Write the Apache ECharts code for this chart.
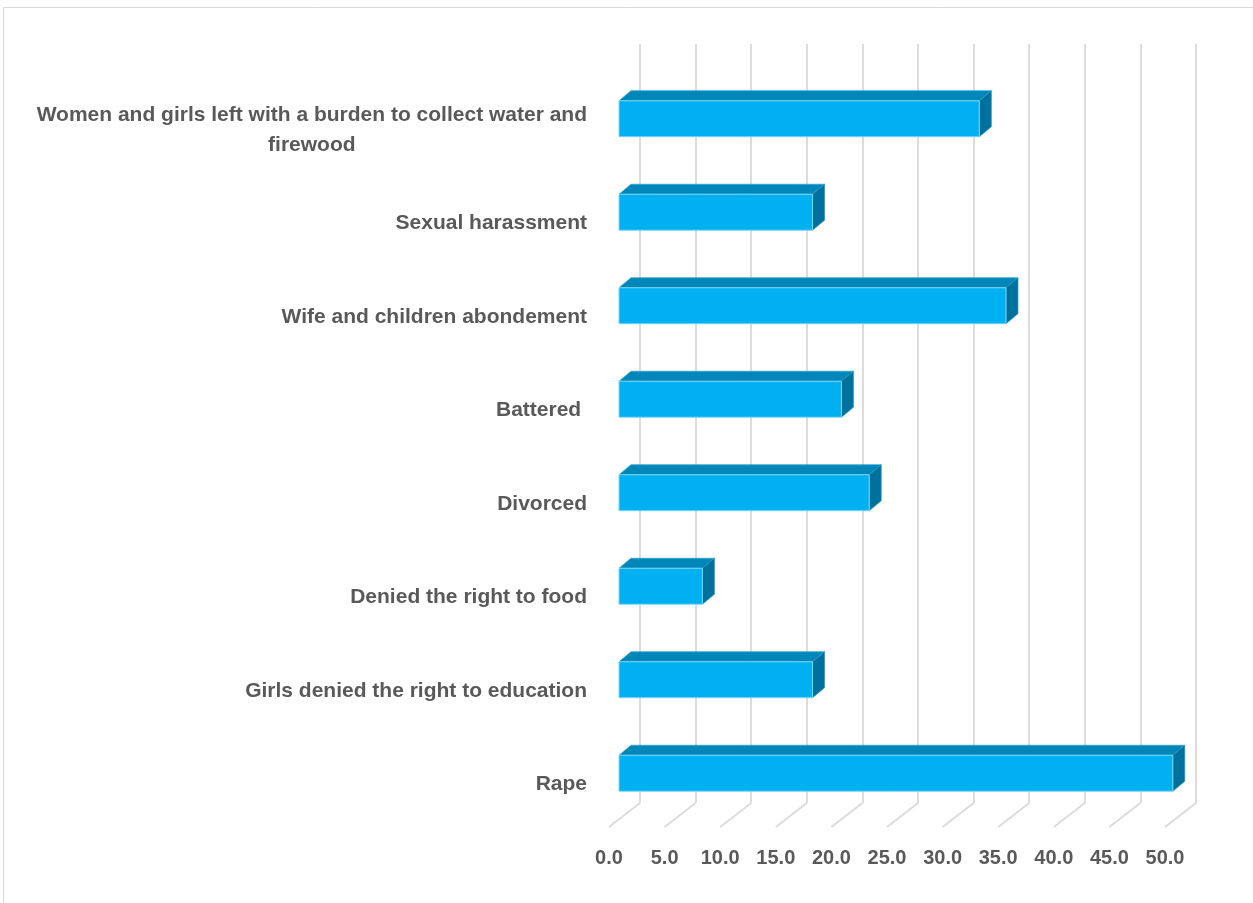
<!DOCTYPE html>
<html>
<head>
<meta charset="utf-8">
<script src="https://cdn.jsdelivr.net/npm/echarts@6/dist/echarts.min.js"></script>
<style>
  html, body { margin: 0; padding: 0; background: #ffffff; }
  #chart { width: 1253px; height: 903px; }
</style>
</head>
<body>
<div id="chart"></div>
<script>
// ---- Data ----
const categories = [
  'Women and girls left with a burden to collect water and firewood',
  'Sexual harassment',
  'Wife and children abondement',
  'Battered ',
  'Divorced',
  'Denied the right to food',
  'Girls denied the right to education',
  'Rape'
];
const values = [32.4, 17.4, 34.8, 20.0, 22.5, 7.5, 17.4, 49.8];
const xTicks = [0, 5, 10, 15, 20, 25, 30, 35, 40, 45, 50];

// ---- Styling constants ----
const FONT = '"Liberation Sans", Arial, sans-serif';
const TEXT_COLOR = '#595959';
const GRID_COLOR = '#DCDCDC';
const DEPTH_X = 12, DEPTH_Y = 10;      // bar depth (3D look)
const FLOOR_DX = 31, FLOOR_DY = 24;    // floor depth

function wrapLabel(s, maxChars) {
  const words = s.split(' ');
  const lines = [];
  let cur = '';
  words.forEach(w => {
    const t = cur ? cur + ' ' + w : w;
    if (t.length > maxChars && cur) { lines.push(cur); cur = w; } else { cur = t; }
  });
  if (cur) lines.push(cur);
  return lines;
}

const chart = echarts.init(document.getElementById('chart'), null, { renderer: 'canvas' });

const option = {
  backgroundColor: '#ffffff',
  animation: false,
  graphic: [{
    type: 'rect',
    shape: { x: 3.5, y: 7.5, width: 1400, height: 1000 },
    style: { fill: 'none', stroke: '#D9D9D9', lineWidth: 1 },
    silent: true, z: -10
  }],
  grid: [
    { left: 619, right: 78, top: 72, bottom: 83 },   // bar front plane
    { left: 640, right: 57, top: 44, bottom: 100 }   // back wall
  ],
  xAxis: [
    {
      gridIndex: 0, type: 'value', min: 0, max: 50, interval: 5,
      axisLine: { show: false }, axisTick: { show: false }, splitLine: { show: false },
      axisLabel: {
        margin: 28,
        formatter: v => '{t|' + v.toFixed(1) + '}',
        rich: { t: { fontFamily: FONT, fontSize: 20, fontWeight: 'bold', color: TEXT_COLOR, padding: [0, 20, 0, 0] } }
      }
    },
    {
      gridIndex: 1, type: 'value', min: 0, max: 50, interval: 5,
      axisLine: { show: false }, axisTick: { show: false }, axisLabel: { show: false },
      splitLine: { show: true, lineStyle: { color: GRID_COLOR, width: 2 } }
    }
  ],
  yAxis: [
    {
      gridIndex: 0, type: 'category', data: categories, inverse: true,
      axisLine: { show: false }, axisTick: { show: false }, splitLine: { show: false },
      axisLabel: {
        margin: 32,
        padding: [22, 0, 0, 0],
        formatter: v => wrapLabel(v, 56).map(l => '{c|' + l + '}').join('\n'),
        rich: { c: { align: 'center', fontFamily: FONT, fontSize: 21, fontWeight: 'bold', color: TEXT_COLOR, lineHeight: 30 } }
      }
    },
    {
      gridIndex: 1, type: 'category', data: categories, inverse: true,
      axisLine: { show: false }, axisTick: { show: false }, axisLabel: { show: false }, splitLine: { show: false }
    }
  ],
  series: [
    {
      // floor grid lines (diagonals from back wall to front edge)
      type: 'custom', xAxisIndex: 1, yAxisIndex: 1, silent: true, z: 1,
      data: xTicks.map(v => [v, 0]),
      encode: { x: 0, y: 1 },
      renderItem: function (params, api) {
        const x = api.coord([api.value(0), 0])[0];
        const yb = params.coordSys.y + params.coordSys.height;
        return {
          type: 'line',
          shape: { x1: x, y1: yb, x2: x - FLOOR_DX, y2: yb + FLOOR_DY },
          style: { stroke: GRID_COLOR, lineWidth: 2 }
        };
      }
    },
    {
      type: 'custom', xAxisIndex: 0, yAxisIndex: 0, z: 5,
      data: values.map((v, i) => [v, i]),
      encode: { x: 0, y: 1 },
      renderItem: function (params, api) {
        const v = api.value(0), c = api.value(1);
        const p1 = api.coord([v, c]);
        const x0 = api.coord([0, c])[0];
        const x1 = p1[0];
        const h = api.size([0, 1])[1] * 0.385;
        const yt = p1[1] - h / 2, yb = p1[1] + h / 2;
        return {
          type: 'group',
          children: [
            {
              type: 'polygon',
              shape: { points: [[x0, yt], [x0 + DEPTH_X, yt - DEPTH_Y], [x1 + DEPTH_X, yt - DEPTH_Y], [x1, yt]] },
              style: { fill: '#0086B8', stroke: '#2FA6D4', lineWidth: 0.8 }
            },
            {
              type: 'polygon',
              shape: { points: [[x1, yt], [x1 + DEPTH_X, yt - DEPTH_Y], [x1 + DEPTH_X, yb - DEPTH_Y], [x1, yb]] },
              style: { fill: '#00709C', stroke: '#2A95BF', lineWidth: 0.8 }
            },
            {
              type: 'rect',
              shape: { x: x0, y: yt, width: x1 - x0, height: h },
              style: { fill: '#00B0F0', stroke: '#7FD6F7', lineWidth: 1 }
            }
          ]
        };
      }
    }
  ]
};

chart.setOption(option);
</script>
</body>
</html>
